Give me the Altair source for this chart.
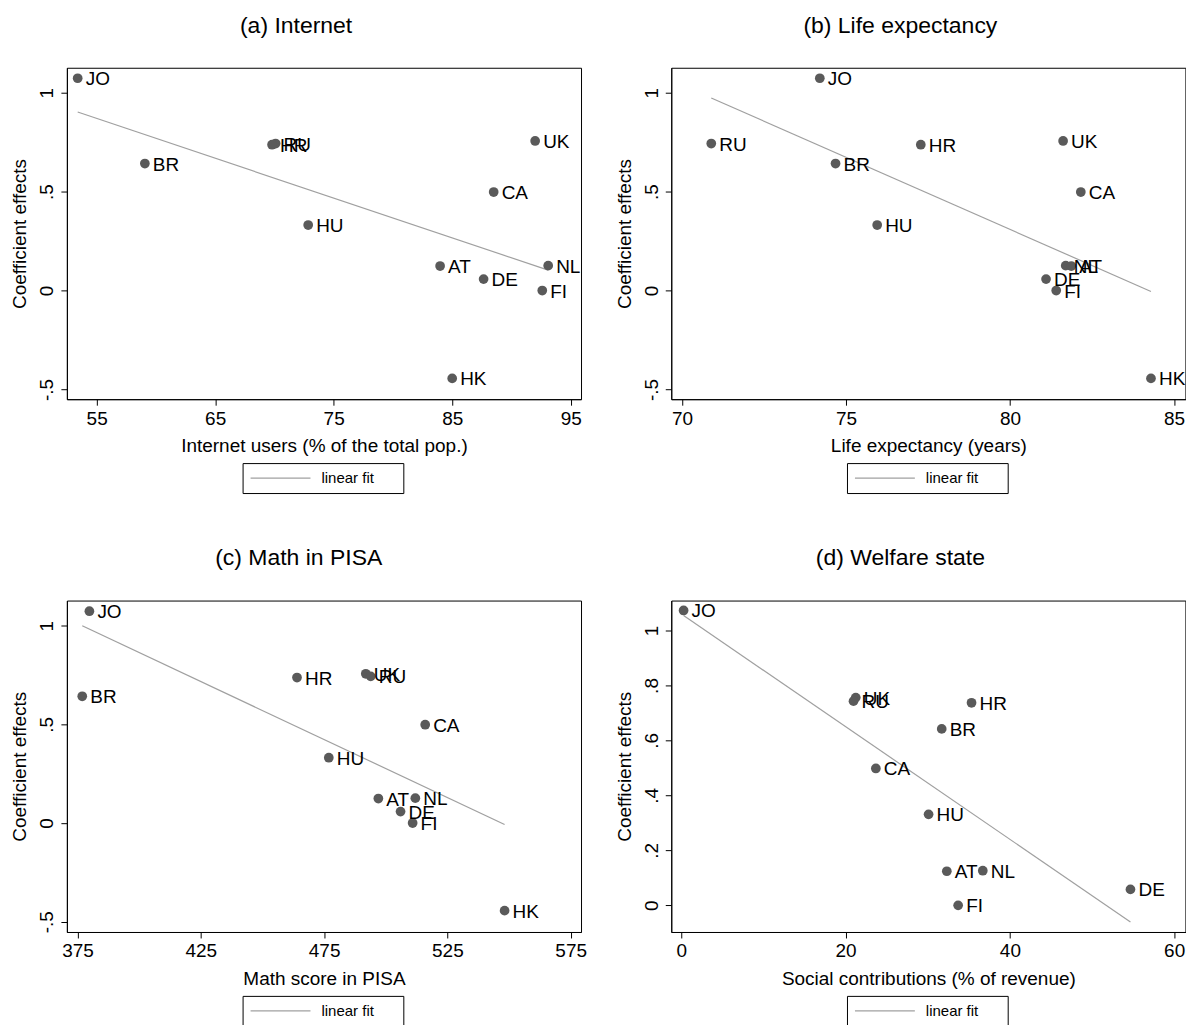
import altair as alt
import pandas as pd

FONT = "Liberation Sans"

countries = ["JO", "UK", "RU", "HR", "BR", "CA", "HU", "NL", "AT", "DE", "FI", "HK"]
coef = [1.073, 0.756, 0.743, 0.737, 0.642, 0.498, 0.331, 0.126, 0.124, 0.058, 0.0, -0.444]
internet = [53.4, 92.0, 70.1, 69.8, 59.07, 88.5, 72.85, 93.1, 83.98, 87.65, 92.6, 85.0]
life = [74.2, 81.62, 70.89, 77.28, 74.68, 82.16, 75.95, 81.7, 81.87, 81.1, 81.41, 84.3]
math = [379.8, 491.9, 493.9, 464.0, 376.9, 516.0, 476.9, 512.0, 497.0, 506.0, 510.9, 548.2]
welfare = [0.27, 21.23, 20.96, 35.33, 31.7, 23.68, 30.1, 36.7, 32.32, 54.68, 33.7, None]

W, H = 515, 332


def panel(xvals, title, xtitle, xdomain, xticks, ydomain, yticks):
    df = pd.DataFrame({"country": countries, "coef": coef, "x": xvals}).dropna()
    base = alt.Chart(df)
    xenc = alt.X(
        "x:Q",
        scale=alt.Scale(domain=xdomain, nice=False, zero=False),
        axis=alt.Axis(values=xticks, title=xtitle, titleY=52.5, titleBaseline="alphabetic"),
    )
    yenc = alt.Y(
        "coef:Q",
        scale=alt.Scale(domain=ydomain, nice=False, zero=False),
        axis=alt.Axis(
            values=yticks,
            title="Coefficient effects",
            labelExpr="replace(datum.value + '', '0.', '.')",
            labelAngle=270,
            labelAlign="center",
            labelBaseline="alphabetic",
            labelPadding=8,
            titleAngle=270,
            titleX=-41,
            titleY=H / 2,
            titleAlign="center",
            titleBaseline="alphabetic",
        ),
    )
    fit = (
        base.transform_regression("x", "coef")
        .transform_calculate(series='"linear fit"')
        .mark_line(strokeWidth=1.2)
        .encode(
            x=xenc,
            y=yenc,
            color=alt.Color(
                "series:N",
                scale=alt.Scale(range=["#a0a0a0"]),
                legend=alt.Legend(
                    title="\u00a0",
                    titleOrient="right",
                    titlePadding=22,
                    titleFontSize=15,
                    orient="none",
                    legendX=176,
                    legendY=396,
                    symbolType="stroke",
                    symbolSize=3600,
                    symbolStrokeWidth=1.2,
                    clipHeight=16,
                    labelFont=FONT,
                    labelFontSize=15,
                    labelColor="black",
                    labelOffset=10,
                    padding=7,
                    strokeColor="black",
                ),
            ),
        )
    )
    pts = base.mark_circle(size=95, color="#5a5a5a", opacity=1).encode(x=xenc, y=yenc)
    lbl = base.mark_text(
        align="left", baseline="middle", dx=8, dy=1, fontSize=19, font=FONT, color="black"
    ).encode(x=xenc, y=yenc, text="country:N")
    return alt.layer(fit, pts, lbl).properties(
        width=W,
        height=H,
        title=alt.TitleParams(
            title,
            fontSize=23,
            font=FONT,
            fontWeight="normal",
            color="black",
            anchor="middle",
            frame="bounds",
            baseline="alphabetic",
            offset=12.3,
        ),
    )


y_main = [-0.5, 0, 0.5, 1]
pa = panel(internet, "(a) Internet", "Internet users (% of the total pop.)",
           [52.49, 95.87], [55, 65, 75, 85, 95], [-0.549, 1.126], y_main)
pb = panel(life, "(b) Life expectancy", "Life expectancy (years)",
           [69.67, 85.35], [70, 75, 80, 85], [-0.549, 1.126], y_main)
pc = panel(math, "(c) Math in PISA", "Math score in PISA",
           [370.67, 579.2], [375, 425, 475, 525, 575], [-0.552, 1.127], y_main)
pd_ = panel(welfare, "(d) Welfare state", "Social contributions (% of revenue)",
            [-1.23, 61.37], [0, 20, 40, 60], [-0.097, 1.109], [0, 0.2, 0.4, 0.6, 0.8, 1])

chart = (
    alt.concat(pa, pb, pc, pd_, columns=2, spacing={"row": 201.7, "column": 90.4}, bounds="flush")
    .resolve_scale(color="independent")
    .properties(padding={"left": 10, "top": 13, "right": 0, "bottom": 0})
    .configure_view(stroke="black", strokeWidth=1)
    .configure_axis(
        grid=False,
        domain=True,
        domainColor="black",
        tickColor="black",
        tickSize=6,
        tickWidth=1,
        labelFont=FONT,
        labelFontSize=19,
        labelColor="black",
        titleFont=FONT,
        titleFontSize=19,
        titleFontWeight="normal",
        titleColor="black",
    )
    .configure_axisX(labelPadding=4)
)

chart.save("out.html", embed_options={"renderer": "svg", "actions": False})
